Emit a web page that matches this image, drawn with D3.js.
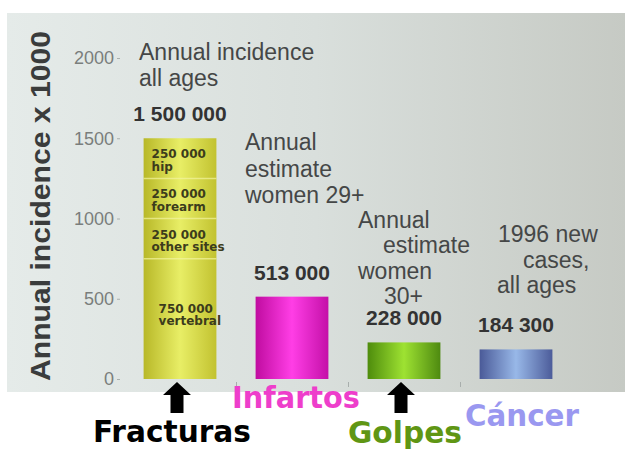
<!DOCTYPE html>
<html>
<head>
<meta charset="utf-8">
<script src="https://cdn.jsdelivr.net/npm/d3@7"></script>
<style>
  body { margin: 0; background: #fff; }
  svg { display: block; }
</style>
</head>
<body>
<div id="chart"></div>
<script>
// chart data
const categories = ["Fracturas", "Infartos", "Golpes", "Cáncer"];
const values = [1500, 513, 228, 184.3];
const valueLabels = ["1 500 000", "513 000", "228 000", "184 300"];
const categoryColors = ["#000000", "#ee3ecb", "#5f9614", "#9a98f0"];
const arrowCategories = ["Fracturas", "Golpes"];

// fracture breakdown, bottom to top
const partValues = [750, 250, 250, 250];
const partNumbers = ["750 000", "250 000", "250 000", "250 000"];
const partNames = ["vertebral", "other sites", "forearm", "hip"];

const yTicks = [0, 500, 1000, 1500, 2000];

const notes = [
    ["Annual incidence", "all ages"],
    ["Annual", "estimate", "women 29+"],
    ["Annual", "estimate", "women", "30+"],
    ["1996 new", "cases,", "all ages"]
];

const width = 631, height = 455;
const sans = "'Liberation Sans', Arimo, Arial, sans-serif";

const svg = d3.select("#chart").append("svg")
    .attr("width", width)
    .attr("height", height);

const defs = svg.append("defs");

// slide background
const bg = defs.append("linearGradient").attr("id", "bg")
    .attr("x1", "0").attr("x2", "1").attr("y1", "0").attr("y2", "0");
bg.append("stop").attr("offset", "0").attr("stop-color", "#e5ebe9");
bg.append("stop").attr("offset", "0.5").attr("stop-color", "#d9dfdc");
bg.append("stop").attr("offset", "1").attr("stop-color", "#c6cac4");

svg.append("rect")
    .attr("x", 7).attr("y", 13)
    .attr("width", 618).attr("height", 379)
    .attr("fill", "url(#bg)");

// bar shading, cylinder look
const barShades = [
    ["#b8b828", "#e8ee66", "#c2c230"],
    ["#c00ca0", "#ff3ee6", "#c410a8"],
    ["#4e8c0c", "#9ee232", "#4e8a10"],
    ["#4a5a98", "#98b8e8", "#4c5c9a"]
];
barShades.forEach((s, i) => {
    const g = defs.append("linearGradient").attr("id", "bar" + i)
        .attr("x1", "0").attr("x2", "1").attr("y1", "0").attr("y2", "0");
    g.append("stop").attr("offset", "0").attr("stop-color", s[0]);
    g.append("stop").attr("offset", "0.5").attr("stop-color", s[1]);
    g.append("stop").attr("offset", "1").attr("stop-color", s[2]);
});

const x = d3.scaleBand()
    .domain(categories)
    .range([124, 572])
    .paddingInner(0.35)
    .paddingOuter(0.175);

const y = d3.scaleLinear()
    .domain([0, 2000])
    .range([379, 58]);

// y axis
const yAxis = svg.append("g")
    .attr("transform", "translate(120,0)")
    .call(d3.axisLeft(y).tickValues(yTicks).tickFormat(d3.format("d")).tickSize(3).tickPadding(3));
yAxis.select(".domain").remove();
yAxis.selectAll("line").attr("stroke", "#aab0ae");
yAxis.selectAll("text")
    .attr("fill", "#7a7e7c")
    .attr("font-family", sans)
    .attr("font-size", 18);

svg.append("text")
    .attr("transform", "translate(50,206) rotate(-90)")
    .attr("text-anchor", "middle")
    .attr("font-family", sans)
    .attr("font-weight", "bold")
    .attr("font-size", 27)
    .attr("fill", "#3a3c3c")
    .attr("textLength", 350)
    .attr("lengthAdjust", "spacingAndGlyphs")
    .text("Annual incidence x 1000");

// small x ticks at band edges
svg.append("g").selectAll("line")
    .data(categories.slice(1))
    .join("line")
    .attr("x1", d => x(d) - x.step() * x.paddingInner() / 2 + 0.5)
    .attr("x2", d => x(d) - x.step() * x.paddingInner() / 2 + 0.5)
    .attr("y1", 382).attr("y2", 387)
    .attr("stroke", "#a8aeac");

// bars
svg.append("g").selectAll("rect")
    .data(categories)
    .join("rect")
    .attr("x", d => x(d))
    .attr("y", (d, i) => y(values[i]))
    .attr("width", x.bandwidth())
    .attr("height", (d, i) => y(0) - y(values[i]))
    .attr("fill", (d, i) => "url(#bar" + i + ")");

// fracture segments
let acc = 0;
const parts = partValues.map((v, i) => {
    const p = { v0: acc, v1: acc + v, num: partNumbers[i], name: partNames[i] };
    acc += v;
    return p;
});
const fx = x("Fracturas");
svg.append("g").selectAll("line")
    .data(parts.slice(1))
    .join("line")
    .attr("x1", fx).attr("x2", fx + x.bandwidth())
    .attr("y1", d => y(d.v0)).attr("y2", d => y(d.v0))
    .attr("stroke", "#f2f4a0").attr("stroke-opacity", 0.7).attr("stroke-width", 1.5);

const partLabels = svg.append("g")
    .attr("font-family", "'DejaVu Sans', sans-serif")
    .attr("font-weight", "bold")
    .attr("font-size", 12)
    .attr("fill", "#3c3c1c");
parts.forEach((p, i) => {
    const big = i === 0;
    const top = big ? (y(p.v1) + y(p.v0)) / 2 - 6 : y(p.v1) + 20;
    const t = partLabels.append("text")
        .attr("x", fx + (big ? 15 : 8))
        .attr("y", top);
    t.append("tspan").attr("x", fx + (big ? 15 : 8)).text(p.num);
    t.append("tspan").attr("x", fx + (big ? 15 : 8)).attr("dy", 12.5).text(p.name);
});

// value labels
svg.append("g").selectAll("text")
    .data(categories)
    .join("text")
    .attr("x", d => x(d) + x.bandwidth() / 2)
    .attr("y", (d, i) => y(values[i]) - 17)
    .attr("text-anchor", "middle")
    .attr("font-family", sans)
    .attr("font-weight", "bold")
    .attr("font-size", 21)
    .attr("fill", "#333")
    .text((d, i) => valueLabels[i]);

// notes above bars
const noteLayout = [
    { x: [139, 139], y: 60, lh: 26 },
    { x: [245, 245, 245], y: 150, lh: 26.5 },
    { x: [358, 383, 358, 384], y: 228, lh: 25.3 },
    { x: [498, 523, 497], y: 242, lh: 25.5 }
];
const noteG = svg.append("g")
    .attr("font-family", sans)
    .attr("font-size", 23)
    .attr("fill", "#454747");
notes.forEach((lines, i) => {
    const L = noteLayout[i];
    lines.forEach((line, j) => {
        noteG.append("text")
            .attr("x", L.x[j])
            .attr("y", L.y + j * L.lh)
            .text(line);
    });
});

// overlay: arrows and Spanish labels
const arrow = d3.path();
arrow.moveTo(0, 0);
arrow.lineTo(14, 13);
arrow.lineTo(6.5, 13);
arrow.lineTo(6.5, 31);
arrow.lineTo(-6.5, 31);
arrow.lineTo(-6.5, 13);
arrow.lineTo(-14, 13);
arrow.closePath();

svg.append("g").selectAll("path")
    .data(arrowCategories)
    .join("path")
    .attr("transform", d => `translate(${x(d) + x.bandwidth() / 2 - 3},382)`)
    .attr("d", arrow.toString())
    .attr("fill", "#000");

const bigLabels = [
    { x: 93, y: 442, w: 158 },
    { x: 232, y: 408, w: 128 },
    { x: 348, y: 443, w: 114 },
    { x: 465, y: 426, w: 114 }
];
svg.append("g").selectAll("text")
    .data(categories)
    .join("text")
    .attr("x", (d, i) => bigLabels[i].x)
    .attr("y", (d, i) => bigLabels[i].y)
    .attr("font-family", "'DejaVu Sans', sans-serif")
    .attr("font-weight", "bold")
    .attr("font-size", 30)
    .attr("textLength", (d, i) => bigLabels[i].w)
    .attr("lengthAdjust", "spacingAndGlyphs")
    .attr("fill", (d, i) => categoryColors[i])
    .text(d => d);
</script>
</body>
</html>
